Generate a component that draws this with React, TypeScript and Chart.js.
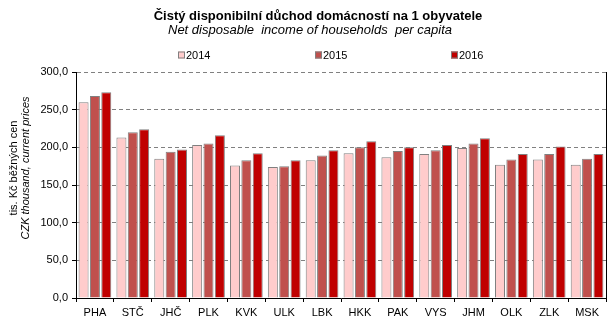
import React, { useEffect, useRef } from "react";
import { Chart, registerables } from "chart.js";

Chart.register(...registerables);

const categories = ["PHA", "STČ", "JHČ", "PLK", "KVK", "ULK", "LBK", "HKK", "PAK", "VYS", "JHM", "OLK", "ZLK", "MSK"];
const seriesNames = ["2014", "2015", "2016"];
const v2014 = [260, 213, 185, 203, 176, 174, 183, 192, 187, 191, 199, 177, 184, 177];
const v2015 = [268, 220, 194, 205, 183, 175, 189, 200, 195, 196, 205, 184, 191, 185];
const v2016 = [273, 224, 197, 216, 192, 183, 196, 208, 200, 203, 212, 191, 201, 191];
const colors = ["#FFCCCC", "#C0504D", "#C00000"];
const titleText = "Čistý disponibilní důchod domácností na 1 obyvatele";
const subtitleText = "Net disposable  income of households  per capita";
const yTitle1 = "tis. Kč běžných cen";
const yTitle2 = "CZK thousand, current prices";

const FONT = "'Liberation Sans', Arial, sans-serif";

const decorPlugin = {
  id: "decor",
  afterDraw(chart: any) {
    const ctx = chart.ctx;
    const ca = chart.chartArea;
    ctx.save();
    // right border
    ctx.strokeStyle = "#000";
    ctx.lineWidth = 1;
    ctx.beginPath();
    ctx.moveTo(Math.round(ca.right) + 0.5, ca.top);
    ctx.lineTo(Math.round(ca.right) + 0.5, ca.bottom);
    ctx.stroke();

    // titles
    ctx.fillStyle = "#000";
    ctx.textAlign = "center";
    ctx.textBaseline = "middle";
    ctx.font = `bold 13px ${FONT}`;
    ctx.fillText(titleText, 318, 16);
    ctx.font = `italic 13px ${FONT}`;
    ctx.fillText(subtitleText, 310, 30);

    // legend
    const xs = [178, 315, 451];
    ctx.font = `11px ${FONT}`;
    ctx.textAlign = "left";
    chart.data.datasets.forEach((ds: any, i: number) => {
      const x = xs[i];
      const y = 55;
      ctx.fillStyle = ds.backgroundColor;
      ctx.fillRect(x, y - 3.5, 7, 7);
      ctx.strokeStyle = "#808080";
      ctx.strokeRect(x + 0.5, y - 3.5 + 0.5, 6, 6);
      ctx.fillStyle = "#000";
      ctx.fillText(ds.label, x + 8, y + 0.5);
    });

    // y axis title
    ctx.save();
    ctx.translate(14, 168);
    ctx.rotate(-Math.PI / 2);
    ctx.textAlign = "center";
    ctx.textBaseline = "middle";
    ctx.font = `11px ${FONT}`;
    ctx.fillText(yTitle1, 0, 0);
    ctx.font = `italic 11px ${FONT}`;
    ctx.fillText(yTitle2, 0, 12);
    ctx.restore();
    ctx.restore();
  },
};

export default function App() {
  const ref = useRef<HTMLCanvasElement>(null);
  useEffect(() => {
    document.body.style.margin = "0";
    const chart = new Chart(ref.current!, {
      type: "bar",
      data: {
        labels: categories,
        datasets: [v2014, v2015, v2016].map((d, i) => ({
          label: seriesNames[i],
          data: d,
          backgroundColor: colors[i],
          borderColor: "#808080",
          borderWidth: 1,
          categoryPercentage: 0.9,
          barPercentage: 0.88,
        })),
      },
      options: {
        animation: false,
        responsive: false,
        devicePixelRatio: 1,
        layout: { padding: { top: 72, right: 10, left: 0, bottom: 0 } },
        plugins: { legend: { display: false }, title: { display: false }, tooltip: { enabled: false } },
        scales: {
          x: {
            offset: true,
            grid: { offset: true, drawOnChartArea: false, drawTicks: true, tickLength: 4, tickColor: "#000", color: "#000" },
            border: { color: "#000", width: 1 },
            ticks: { color: "#000", font: { family: FONT, size: 11 }, padding: 4, maxRotation: 0, autoSkip: false },
            afterFit: (s: any) => { s.height = 25; },
          },
          y: {
            min: 0,
            max: 300,
            grid: {
              color: (c: any) => (c.tick && c.tick.value === 0 ? "rgba(0,0,0,0)" : "#808080"),
              tickColor: "#000",
              tickLength: 4,
              drawTicks: true,
            },
            border: { color: "#000", width: 1, dash: [4, 3] },
            ticks: {
              stepSize: 50,
              color: "#000",
              padding: 4,
              font: { family: FONT, size: 11 },
              callback: (v: any) => Number(v).toFixed(1).replace(".", ","),
            },
            afterFit: (s: any) => { s.width = 76; },
          },
        },
      },
      plugins: [decorPlugin],
    });
    return () => chart.destroy();
  }, []);
  return (
    <div style={{ width: 616, height: 323 }}>
      <canvas ref={ref} width={616} height={323} />
    </div>
  );
}
